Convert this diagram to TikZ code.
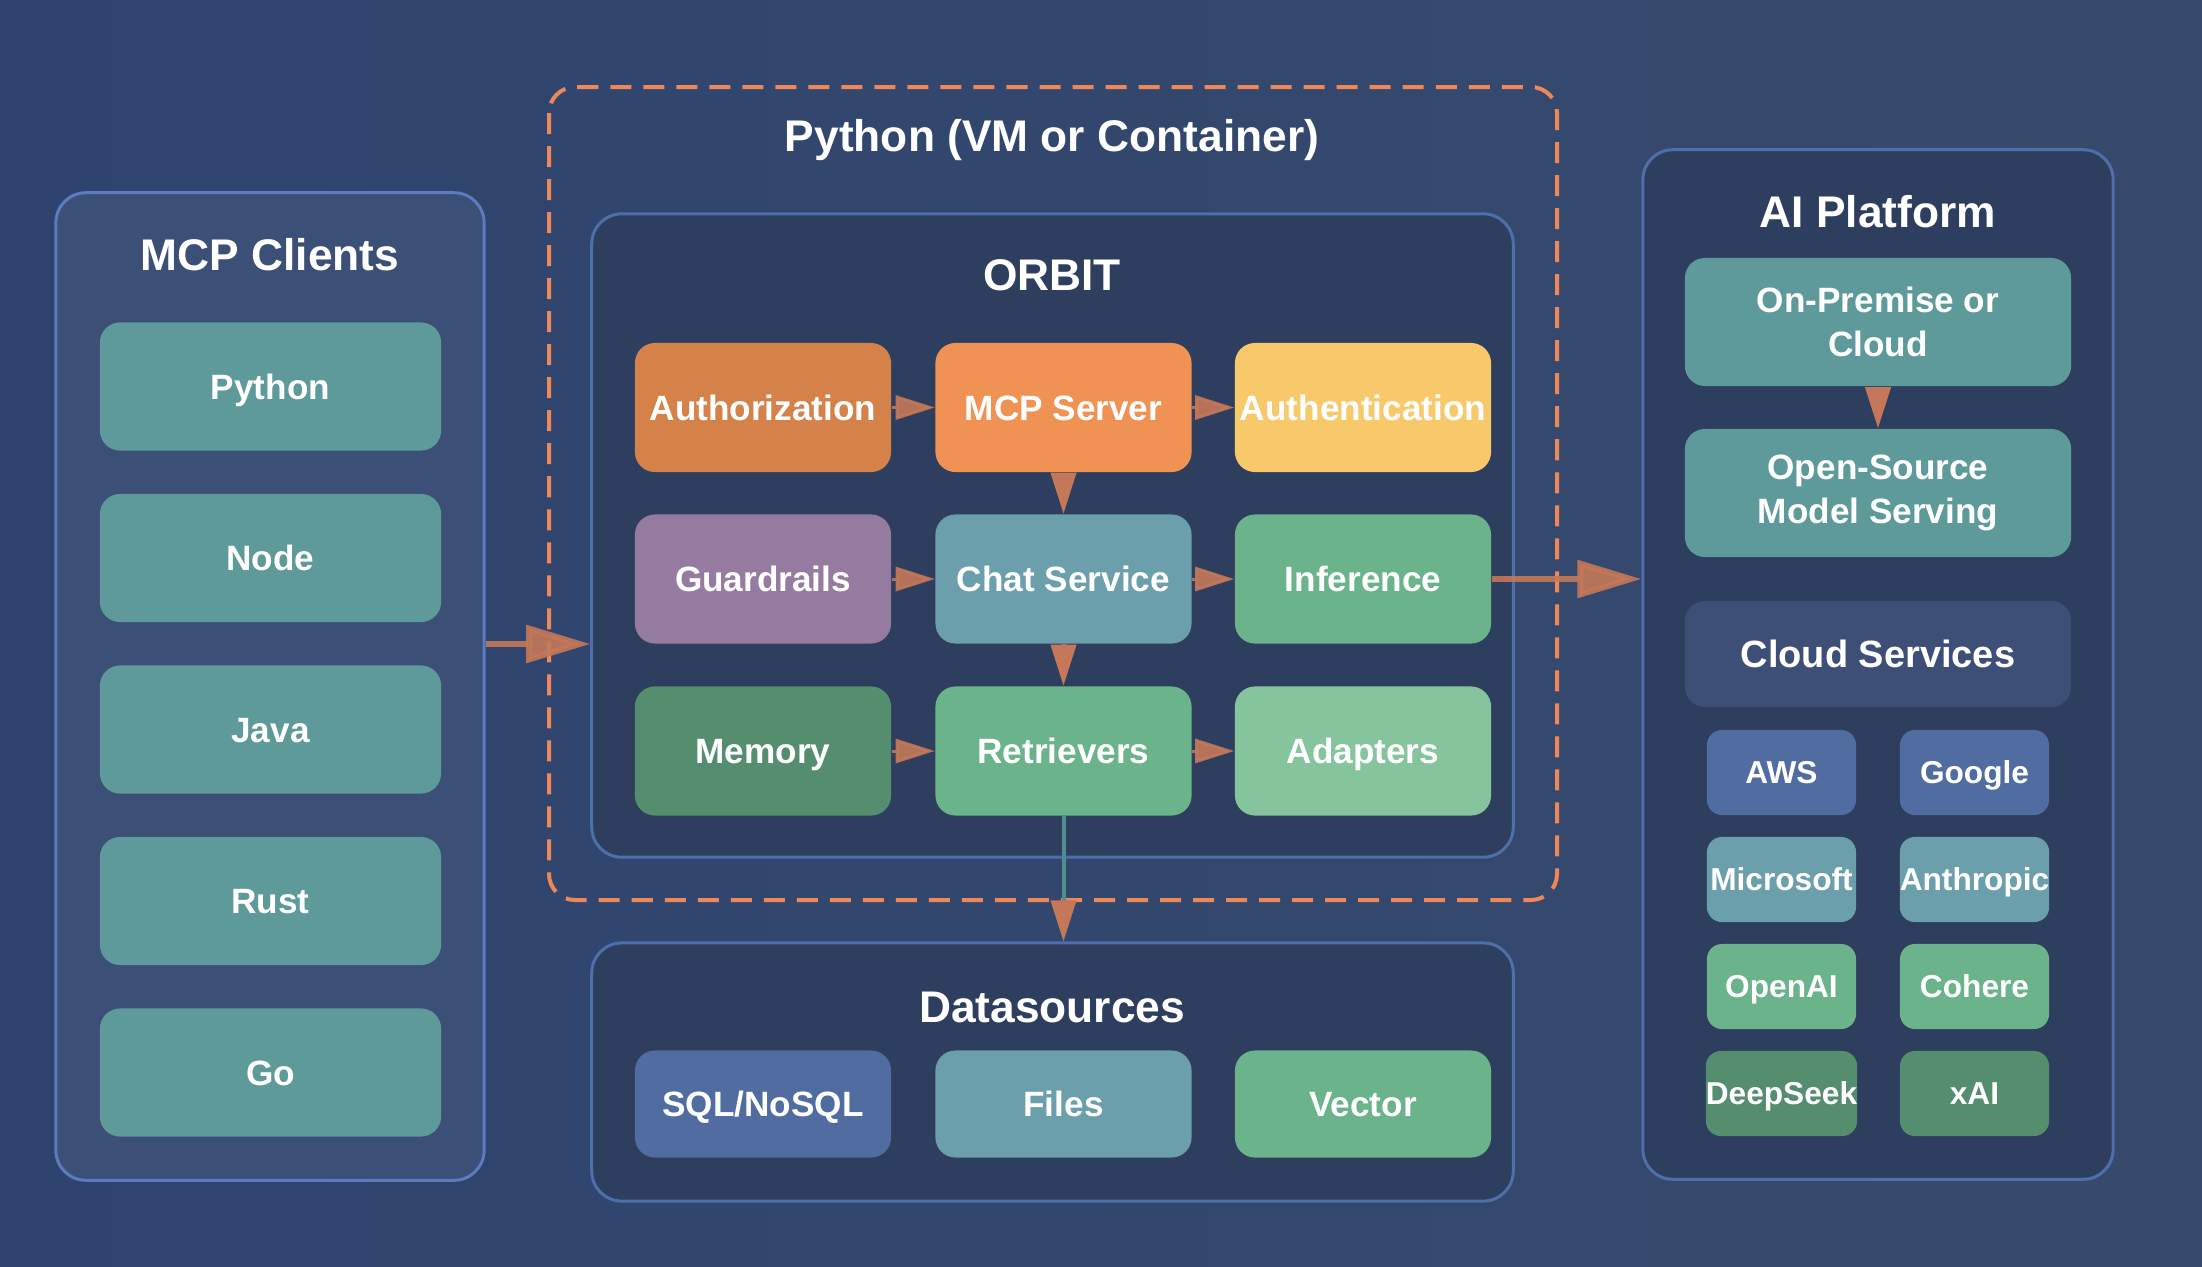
\documentclass[tikz,border=0pt]{standalone}
\usepackage{fontspec}
\setmainfont{Liberation Sans}
\usetikzlibrary{arrows.meta}
\definecolor{bgA}{HTML}{2E446F}
\definecolor{bgB}{HTML}{384A6C}
\definecolor{panelfill}{HTML}{2E3E5E}
\definecolor{panelline}{HTML}{4F6FAA}
\definecolor{clientfill}{HTML}{3C4F77}
\definecolor{clientline}{HTML}{5B7CC0}
\definecolor{hostline}{HTML}{EE8858}
\definecolor{arrowc}{HTML}{C47859}
\definecolor{linkc}{HTML}{4F8E91}
\definecolor{cClient}{HTML}{5F9A9A}
\definecolor{cAuthz}{HTML}{D4824A}
\definecolor{cServer}{HTML}{F09254}
\definecolor{cAuthn}{HTML}{F7C96B}
\definecolor{cGuard}{HTML}{957BA0}
\definecolor{cChat}{HTML}{6A9FAB}
\definecolor{cInfer}{HTML}{6BB38A}
\definecolor{cMemory}{HTML}{558E6E}
\definecolor{cAdapt}{HTML}{86C49E}
\definecolor{cBlue}{HTML}{506CA0}
\definecolor{cCloud}{HTML}{3E4F77}
\tikzset{
  panel/.style={fill=#1, draw=panelline, line width=0.03cm, rounded corners=0.3cm, inner sep=0pt},
  host/.style={draw=hostline, line width=0.04cm, rounded corners=0.26cm, dash pattern=on 0.21cm off 0.12cm},
  title/.style={text=white, font=\fontsize{12.6}{15}\selectfont\bfseries, anchor=base},
  tilebase/.style={fill=#1, rounded corners=0.2cm, text=white, font=\fontsize{10}{12.4}\selectfont\bfseries,
    minimum width=2.56cm, minimum height=1.29cm, align=center, inner sep=0pt},
  tile/.style={tilebase=#1, text height=7.2pt, text depth=0pt},
  chip/.style={tile=#1, rounded corners=0.15cm, font=\fontsize{9}{11}\selectfont\bfseries,
    text height=6.45pt, minimum width=1.49cm, minimum height=0.85cm},
  flow/.style={draw=arrowc, line width=0.03cm, opacity=0.9, -{Triangle[length=0.39cm, width=0.24cm]}},
  drop/.style={draw=linkc, line width=0.04cm, -{Triangle[length=0.41cm, width=0.25cm, color=arrowc]}},
  bigflow/.style={draw=arrowc, line width=0.06cm, opacity=0.9, -{Triangle[length=0.64cm, width=0.37cm]}}
}
\begin{document}
\begin{tikzpicture}[x=0.01cm, y=-0.01cm]
\useasboundingbox (0,0) rectangle (2202,1266);
\fill[left color=bgA, right color=bgB] (0,0) rectangle (2202,1266);

\node[panel=clientfill, draw=clientline, minimum width=4.28cm, minimum height=9.87cm] (clients) at (270,686.5) {};
\draw[host] (549,87) rectangle (1557,900);
\node[panel=panelfill, minimum width=9.21cm, minimum height=6.43cm] (orbit) at (1052.5,535.5) {};
\node[panel=panelfill, minimum width=9.21cm, minimum height=2.58cm] (data) at (1052.5,1072) {};
\node[panel=panelfill, minimum width=4.70cm, minimum height=10.29cm] (ai) at (1878,664.5) {};

\node[title] (clientstitle) at (270,270) {MCP Clients};
\node[title] (hosttitle) at (1052,151) {Python (VM or Container)};
\node[title] (orbittitle) at (1052,290) {ORBIT};
\node[title] (datatitle) at (1052,1022) {Datasources};
\node[title] (aititle) at (1878,227) {AI Platform};

\foreach \lang [count=\i] in {Python,Node,Java,Rust,Go}
  \node[tile=cClient, minimum width=3.41cm, minimum height=1.28cm] (client\i) at (270.5,215+171.5*\i) {\lang};

\node[tile=cAuthz] (authz) at (763,407.5) {Authorization};
\node[tile=cServer] (server) at (1063.5,407.5) {MCP Server};
\node[tile=cAuthn] (authn) at (1363,407.5) {Authentication};
\node[tile=cGuard] (guard) at (763,579) {Guardrails};
\node[tile=cChat] (chat) at (1063.5,579) {Chat Service};
\node[tile=cInfer] (infer) at (1363,579) {Inference};
\node[tile=cMemory] (memory) at (763,751) {Memory};
\node[tile=cInfer] (retr) at (1063.5,751) {Retrievers};
\node[tile=cAdapt] (adapt) at (1363,751) {Adapters};

\node[tile=cBlue, minimum height=1.07cm] (sql) at (763,1104) {SQL/NoSQL};
\node[tile=cChat, minimum height=1.07cm] (files) at (1063.5,1104) {Files};
\node[tile=cInfer, minimum height=1.07cm] (vector) at (1363,1104) {Vector};

\node[tilebase=cClient, minimum width=3.86cm, minimum height=1.28cm] (onprem) at (1878,322) {On-Premise or\\Cloud};
\node[tilebase=cClient, minimum width=3.86cm, minimum height=1.28cm] (osms) at (1878,493) {Open-Source\\Model Serving};
\node[tile=cCloud, minimum width=3.86cm, minimum height=1.06cm, font=\fontsize{10.8}{13}\selectfont\bfseries, text height=7.7pt] (cloud) at (1878,654) {Cloud Services};

\node[chip=cBlue] (aws) at (1781.5,772.5) {AWS};
\node[chip=cBlue] (google) at (1974.5,772.5) {Google};
\node[chip=cChat] (msft) at (1781.5,879.5) {Microsoft};
\node[chip=cChat] (anthropic) at (1974.5,879.5) {Anthropic};
\node[chip=cInfer] (openai) at (1781.5,986.5) {OpenAI};
\node[chip=cInfer] (cohere) at (1974.5,986.5) {Cohere};
\node[chip=cMemory] (deepseek) at (1781.5,1093.5) {DeepSeek};
\node[chip=cMemory] (xai) at (1974.5,1093.5) {xAI};

\draw[flow] (authz) -- (server);
\draw[flow] (server) -- (authn);
\draw[flow] (guard) -- (chat);
\draw[flow] (chat) -- (infer);
\draw[flow] (memory) -- (retr);
\draw[flow] (retr) -- (adapt);
\draw[drop] (server) -- (chat);
\draw[drop] (chat) -- (retr);
\draw[drop] (retr) -- (retr |- data.north);
\draw[drop] (onprem) -- (osms);

\coordinate (gate) at (orbit.west |- 0,644);
\draw[bigflow] (clients.east |- gate) -- (gate);
\draw[bigflow] (infer) -- (infer -| ai.west);
\end{tikzpicture}
\end{document}
